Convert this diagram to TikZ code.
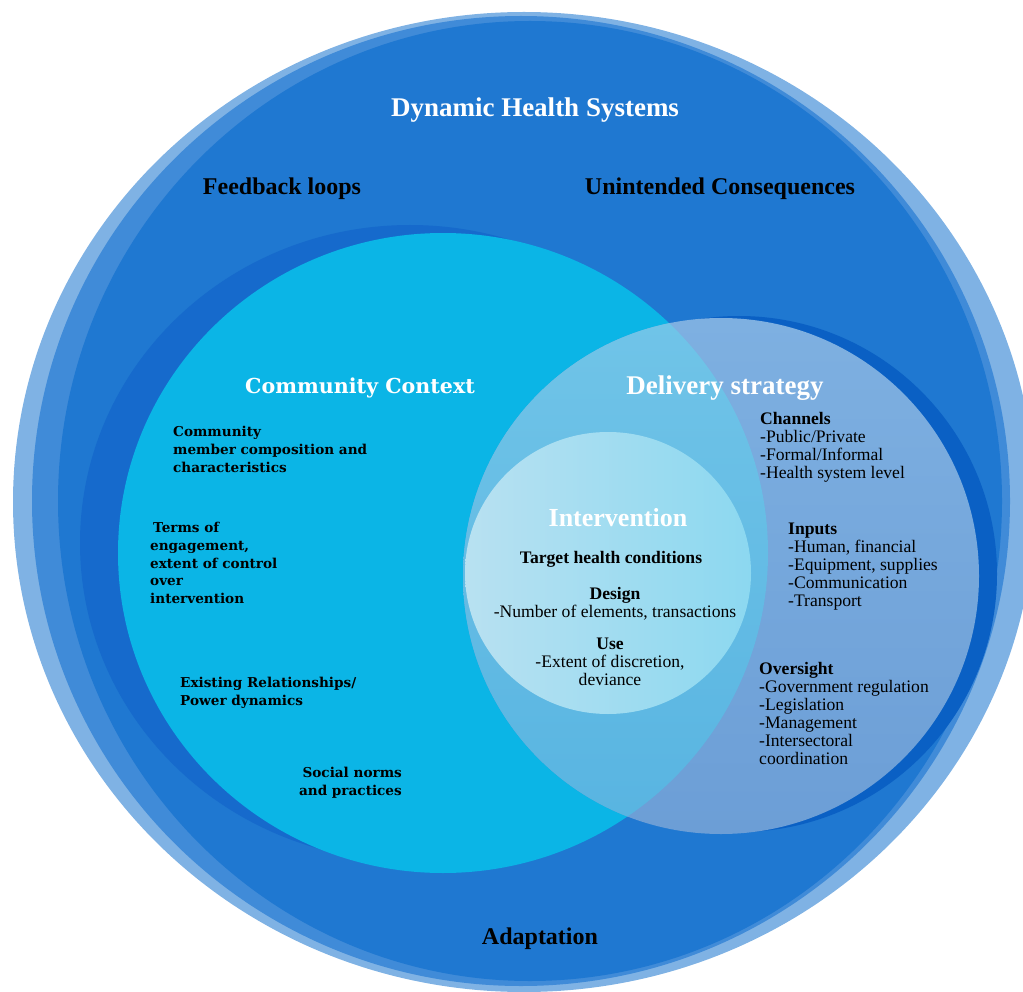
\documentclass[tikz,border=0pt]{standalone}
\usepackage{fontspec}
\setmainfont{Liberation Serif}
\newfontfamily\wideserif{DejaVu Serif}
\usepackage{xcolor}

\definecolor{ringlight}{RGB}{127,178,228}
\definecolor{ringmid}{RGB}{64,139,216}
\definecolor{sysblue}{RGB}{31,120,209}
\definecolor{ctxshadow}{RGB}{22,106,204}
\definecolor{ctxcyan}{RGB}{11,181,230}
\definecolor{dlvshadow}{RGB}{10,96,196}
\definecolor{dlvtop}{RGB}{126,176,225}
\definecolor{dlvbot}{RGB}{108,158,214}
\definecolor{ovltop}{RGB}{112,196,232}
\definecolor{ovlbot}{RGB}{88,180,225}
\definecolor{intleft}{RGB}{184,225,241}
\definecolor{intright}{RGB}{140,216,240}

\tikzset{
	bigtitle/.style={text=white, font=\bfseries\fontsize{27}{30}\selectfont},
	ringlabel/.style={text=black, font=\bfseries\fontsize{24}{26}\selectfont},
	ctxitem/.style={align=left, anchor=north west, inner sep=0pt, font=\wideserif\bfseries\fontsize{13.6}{17.8}\selectfont},
	dlvitem/.style={align=left, anchor=north west, inner sep=0pt, font=\fontsize{17.6}{18}\selectfont},
	intitem/.style={align=center, anchor=north, inner sep=0pt, font=\fontsize{17.6}{18}\selectfont}
}

\begin{document}
\begin{tikzpicture}[x=1pt,y=-1pt]
	
	\useasboundingbox (0,0) rectangle (1023,992);
	\clip (0,0) rectangle (1023,992);
	
	\coordinate (ctxc) at (443,553);
	\coordinate (dlvc) at (721,576);
	\coordinate (intc) at (608,573);
	
	% health system rings
	\fill[ringlight] (524,502) ellipse [x radius=511pt, y radius=490pt];
	\fill[ringmid] (521,501) ellipse [x radius=489pt, y radius=485pt];
	\fill[sysblue] (530,501) ellipse [x radius=472pt, y radius=480pt];
	
	% community context
	\fill[ctxshadow] (410,543) ellipse [x radius=330pt, y radius=318pt];
	\fill[ctxcyan] (ctxc) ellipse [x radius=325pt, y radius=320pt];
	
	% delivery strategy
	\fill[dlvshadow] (739,574) circle [radius=258pt];
	\shade[top color=dlvtop, bottom color=dlvbot] (dlvc) circle [radius=258pt];
	\begin{scope}
		\clip (ctxc) ellipse [x radius=325pt, y radius=320pt];
		\shade[top color=ovltop, bottom color=ovlbot] (dlvc) circle [radius=258pt];
	\end{scope}
	
	% intervention
	\shade[left color=intleft, right color=intright] (intc) ellipse [x radius=143pt, y radius=141pt];
	
	\node[bigtitle] (systitle) at (535,110) {Dynamic Health Systems};
	\node[ringlabel] (feedback) at (282,189) {Feedback loops};
	\node[ringlabel] (unintended) at (720,189) {Unintended Consequences};
	\node[ringlabel] (adapt) at (540,939) {Adaptation};
	
	\node[text=white, font=\wideserif\bfseries\fontsize{20.6}{22}\selectfont] (ctxtitle) at (360,388) {Community Context};
	\node[ctxitem] (members) at (173,426) {Community\\member composition and\\characteristics};
	\node[ctxitem] (terms) at (150,522) {\hspace{3pt}Terms of\\engagement,\\extent of control\\over\\intervention};
	\node[ctxitem] (relations) at (180,677) {Existing Relationships/\\Power dynamics};
	\node[ctxitem, align=right, anchor=north east] (norms) at (402,767) {Social norms\\and practices};
	
	\node[bigtitle] (dlvtitle) at (725,388) {Delivery strategy};
	\node[dlvitem] (channels) at (760,412) {\textbf{Channels}\\-Public/Private\\-Formal/Informal\\-Health system level};
	\node[dlvitem] (inputs) at (788,523) {\textbf{Inputs}\\-Human, financial\\-Equipment, supplies\\-Communication\\-Transport};
	\node[dlvitem] (oversight) at (759,662) {\textbf{Oversight}\\-Government regulation\\-Legislation\\-Management\\-Intersectoral\\coordination};
	
	\node[bigtitle, font=\bfseries\fontsize{26}{28}\selectfont] (inttitle) at (618,518) {Intervention};
	\node[intitem] (target) at (611,551) {\textbf{Target health conditions}};
	\node[intitem] (design) at (615,587) {\textbf{Design}\\-Number of elements, transactions};
	\node[intitem] (use) at (610,638) {\textbf{Use}\\-Extent of discretion,\\deviance};
	
\end{tikzpicture}
\end{document}
